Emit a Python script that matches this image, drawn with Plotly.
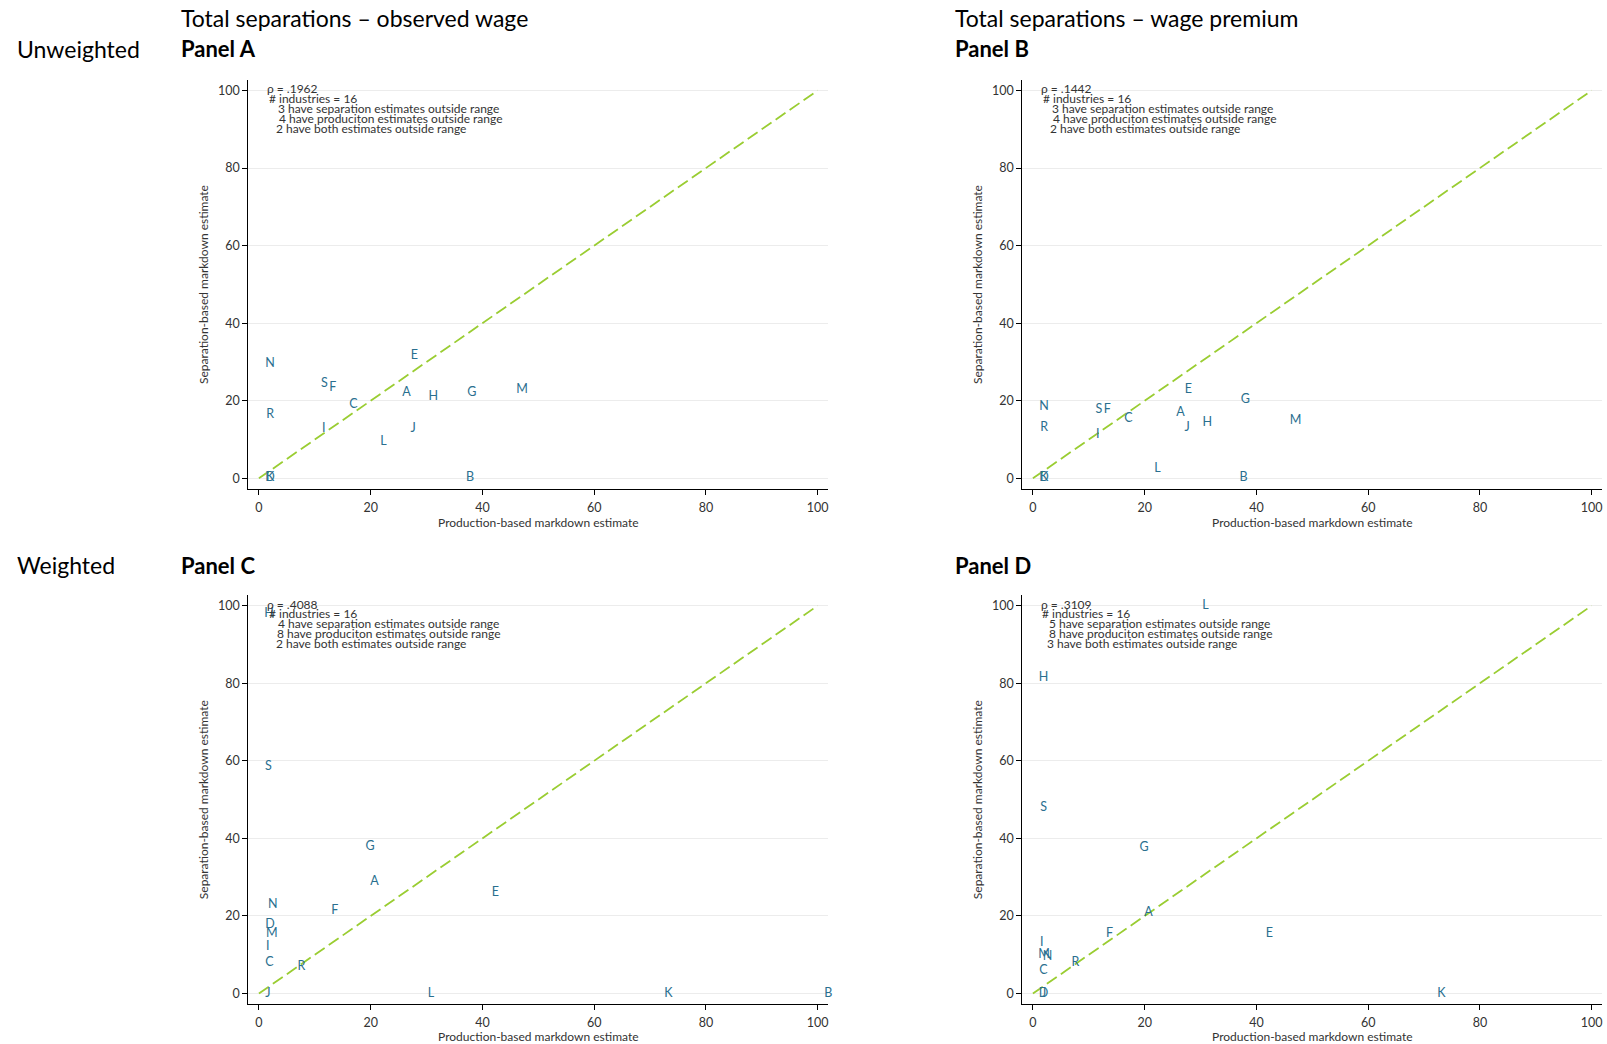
import plotly.graph_objects as go

W, H = 1607, 1044

# ---------------- data ----------------
letters_A = ["N", "E", "S", "F", "A", "H", "G", "M", "C", "R", "I", "J", "L", "D", "K", "B"]
x_A = [2.0, 27.8, 11.7, 13.2, 26.4, 31.2, 38.1, 47.1, 16.9, 2.0, 11.6, 27.6, 22.3, 2.0, 2.0, 37.8]
y_A = [29.5, 31.5, 24.4, 23.2, 22.0, 20.9, 22.1, 22.7, 19.0, 16.4, 12.7, 12.7, 9.3, 0.0, 0.0, 0.0]

letters_B = ["E", "G", "N", "S", "F", "A", "C", "H", "M", "R", "J", "I", "L", "D", "K", "B"]
x_B = [27.8, 38.0, 2.0, 11.8, 13.3, 26.4, 17.1, 31.2, 47.0, 2.0, 27.6, 11.6, 22.3, 2.0, 2.0, 37.7]
y_B = [22.7, 20.2, 18.5, 17.6, 17.6, 16.9, 15.4, 14.2, 14.7, 13.0, 12.9, 11.2, 2.4, 0.0, 0.0, 0.0]

letters_C = ["S", "G", "A", "E", "N", "F", "D", "M", "I", "C", "R", "J", "L", "K", "B", "H"]
x_C = [1.7, 19.9, 20.7, 42.3, 2.5, 13.6, 2.0, 2.3, 1.6, 1.9, 7.6, 1.6, 30.8, 73.3, 101.9, 1.8]
y_C = [58.4, 37.9, 28.9, 26.0, 22.8, 21.4, 17.7, 15.3, 11.9, 7.8, 6.9, 0.0, 0.0, 0.0, 0.0, 97.8]

letters_D = ["G", "A", "F", "E", "I", "M", "N", "R", "C", "D", "J", "L", "H", "S", "K", "B"]
x_D = [19.9, 20.7, 13.7, 42.3, 1.6, 2.0, 2.6, 7.6, 1.9, 1.9, 1.9, 30.9, 1.9, 1.9, 73.1, 102.0]
y_D = [37.6, 20.9, 15.3, 15.3, 13.0, 10.0, 9.4, 8.0, 5.9, 0.0, 0.0, 100.0, 81.5, 47.9, 0.0, 0.0]

rho = [".1962", ".1442", ".4088", ".3109"]
n_ind = [16, 16, 16, 16]
sep_out = [3, 3, 4, 5]
prod_out = [4, 4, 8, 8]
both_out = [2, 2, 2, 3]

col_titles = ["Total separations \u2013 observed wage", "Total separations \u2013 wage premium"]
row_titles = ["Unweighted", "Weighted"]
panel_names = ["Panel A", "Panel B", "Panel C", "Panel D"]

x_ticks = [0, 20, 40, 60, 80, 100]
y_ticks = [0, 20, 40, 60, 80, 100]

# ---------------- style ----------------
FONT = "Lato"
LETTER_COL = "#2a6f8f"
LINE_COL = "#9acd32"
TEXT_COL = "#333333"

# plot-area pixel boxes (left, right, top, bottom)
boxes = [
    (248.3, 828.3, 80.0, 489.0),
    (1022.3, 1602.3, 80.0, 489.0),
    (248.3, 828.3, 595.2, 1004.2),
    (1022.3, 1602.3, 595.2, 1004.2),
]
XR = [-1.9, 101.9]
YR = [-2.75, 102.7]

fig = go.Figure()
panels = [(letters_A, x_A, y_A), (letters_B, x_B, y_B), (letters_C, x_C, y_C), (letters_D, x_D, y_D)]

layout = dict(
    width=W, height=H, margin=dict(l=0, r=0, t=0, b=0),
    paper_bgcolor="white", plot_bgcolor="white", showlegend=False,
    font=dict(family=FONT, color=TEXT_COL),
)

annotations = []
# per-line x offsets (data units) for info lines
info_x = [
    [1.0, 1.5, 3.0, 3.2, 2.7],
    [1.0, 1.5, 3.0, 3.2, 2.7],
    [1.0, 1.5, 3.0, 2.8, 2.7],
    [1.0, 1.3, 2.6, 2.5, 2.2],
]
info_y = [100.4, 97.9, 95.4, 92.8, 90.3]

for i, (labs, xs, ys) in enumerate(panels):
    sfx = "" if i == 0 else str(i + 1)
    xa, ya = "x" + sfx, "y" + sfx
    l, r, t, b = boxes[i]
    fig.add_trace(go.Scatter(
        x=[0, 100], y=[0, 100], mode="lines", xaxis=xa, yaxis=ya,
        line=dict(color=LINE_COL, width=1.8, dash="12px,5px"), hoverinfo="skip"))
    fig.add_trace(go.Scatter(
        x=xs, y=ys, mode="text", text=labs, xaxis=xa, yaxis=ya,
        textfont=dict(family=FONT, size=12.5, color=LETTER_COL),
        textposition="middle center", cliponaxis=False))
    layout["xaxis" + sfx] = dict(
        domain=[l / W, r / W], anchor=ya, range=XR, tickvals=x_ticks,
        showgrid=False, zeroline=False, showline=True, linecolor="black", linewidth=1,
        ticks="outside", ticklen=5, tickcolor="black", tickwidth=1, ticklabelstandoff=2,
        tickfont=dict(family=FONT, size=12.5, color=TEXT_COL),
        title=dict(text="Production-based markdown estimate", standoff=1,
                   font=dict(family=FONT, size=12, color=TEXT_COL)),
    )
    layout["yaxis" + sfx] = dict(
        domain=[1 - b / H, 1 - t / H], anchor=xa, range=YR, tickvals=y_ticks,
        showgrid=True, gridcolor="#ececec", gridwidth=1, zeroline=False,
        showline=True, linecolor="black", linewidth=1,
        ticks="outside", ticklen=5, tickcolor="black", tickwidth=1,
        tickfont=dict(family=FONT, size=12.5, color=TEXT_COL),
        title=dict(text="Separation-based markdown estimate", standoff=6,
                   font=dict(family=FONT, size=12, color=TEXT_COL)),
    )
    lines = [
        "\u03c1 = " + rho[i],
        "# industries = " + str(n_ind[i]),
        f"{sep_out[i]} have separation estimates outside range",
        f"{prod_out[i]} have produciton estimates outside range",
        f"{both_out[i]} have both estimates outside range",
    ]
    for k, txt in enumerate(lines):
        annotations.append(dict(
            x=info_x[i][k], y=info_y[k], xref=xa, yref=ya, text=txt, showarrow=False,
            xanchor="left", yanchor="middle", font=dict(family=FONT, size=12, color=TEXT_COL)))

# header texts
def paper_ann(px, py, txt, size=23, bold=False):
    return dict(x=px / W, y=1 - py / H, xref="paper", yref="paper",
                text=("<b>" + txt + "</b>") if bold else txt, showarrow=False,
                xanchor="left", yanchor="middle",
                font=dict(family=FONT, size=size, color="black"))

annotations.append(paper_ann(179, 18.5, col_titles[0]))
annotations.append(paper_ann(953, 18.5, col_titles[1]))
annotations.append(paper_ann(15, 49, row_titles[0]))
annotations.append(paper_ann(15, 565, row_titles[1]))
annotations.append(paper_ann(179, 49, panel_names[0], size=22, bold=True))
annotations.append(paper_ann(953, 49, panel_names[1], size=22, bold=True))
annotations.append(paper_ann(179, 565, panel_names[2], size=22, bold=True))
annotations.append(paper_ann(953, 565, panel_names[3], size=22, bold=True))

layout["annotations"] = annotations
fig.update_layout(**layout)

fig.write_html("out.html", config={"displayModeBar": False},
               post_script="document.body.style.margin='0';document.body.style.overflow='hidden';")
